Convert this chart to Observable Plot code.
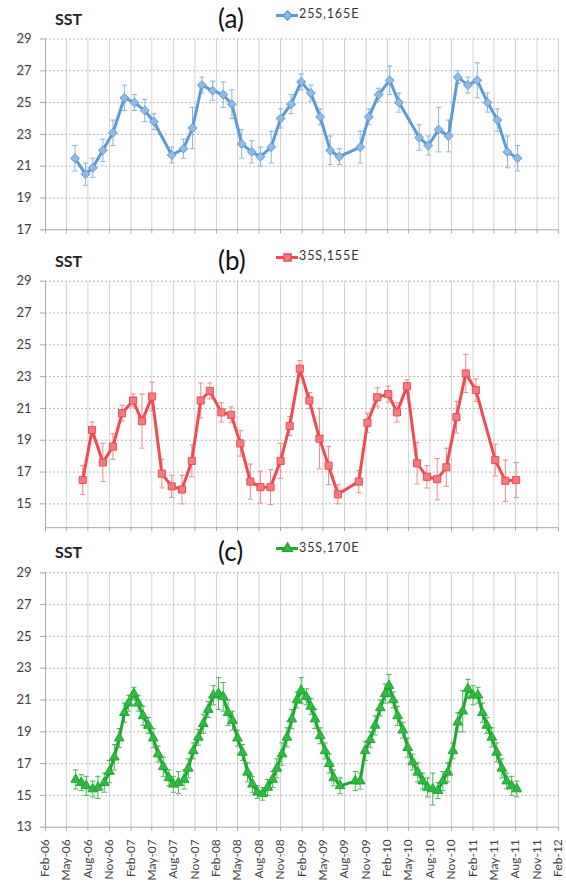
<!DOCTYPE html>
<html><head><meta charset="utf-8">
<script src="https://cdn.jsdelivr.net/npm/d3@7"></script>
<script src="https://cdn.jsdelivr.net/npm/@observablehq/plot@0.6"></script>
<style>
body{margin:0;background:#fff;}
#wrap{position:relative;width:566px;height:883px;overflow:hidden;font-family:Lato,"Open Sans",sans-serif;background:#fff;}
.panel{position:absolute;left:0;width:566px;}
.panel svg{overflow:visible;}
.sst{position:absolute;font-weight:bold;font-size:16px;line-height:1;color:#222;}
.letter{position:absolute;font-size:26px;line-height:1;color:#111;}
.leg{position:absolute;font-size:12.5px;letter-spacing:0.9px;line-height:1;color:#333;display:flex;align-items:center;}
</style></head><body><div id="wrap"></div>
<script>
const xTickLabels = ["Feb-06","May-06","Aug-06","Nov-06","Feb-07","May-07","Aug-07","Nov-07","Feb-08","May-08","Aug-08","Nov-08","Feb-09","May-09","Aug-09","Nov-09","Feb-10","May-10","Aug-10","Nov-10","Feb-11","May-11","Aug-11","Nov-11","Feb-12"];

const datesA = ["2006-06-07","2006-07-22","2006-08-22","2006-10-04","2006-11-16","2007-01-04","2007-02-16","2007-04-01","2007-05-10","2007-07-25","2007-09-13","2007-10-22","2007-12-01","2008-01-16","2008-03-01","2008-04-07","2008-05-19","2008-07-01","2008-08-07","2008-09-22","2008-11-01","2008-12-16","2009-01-28","2009-03-10","2009-04-19","2009-06-01","2009-07-10","2009-10-07","2009-11-13","2009-12-25","2010-02-10","2010-03-22","2010-06-16","2010-07-25","2010-09-07","2010-10-19","2010-11-28","2011-01-10","2011-02-19","2011-04-04","2011-05-16","2011-06-28","2011-08-10"];
const sstA = [21.5,20.5,20.9,22.0,23.1,25.3,25.0,24.5,23.8,21.7,22.1,23.4,26.1,25.75,25.5,24.9,22.4,21.9,21.6,22.2,24.0,24.9,26.3,25.6,24.1,22.0,21.6,22.2,24.1,25.5,26.4,25.0,22.8,22.3,23.3,22.9,26.6,26.1,26.4,25.0,23.9,21.9,21.5];
const errA = [0.8,0.7,0.6,0.7,0.8,0.8,0.5,0.7,0.5,0.5,0.6,1.3,0.5,0.6,0.8,0.9,0.9,0.7,0.6,1.0,0.6,0.6,0.5,0.5,0.5,0.9,0.5,1.0,0.5,0.4,0.9,0.6,0.8,0.6,1.4,1.0,0.4,0.5,1.1,0.6,0.7,1.0,0.8];

const datesB = ["2006-07-10","2006-08-19","2006-10-04","2006-11-16","2006-12-25","2007-02-10","2007-03-20","2007-05-02","2007-06-13","2007-07-25","2007-09-07","2007-10-19","2007-11-26","2008-01-04","2008-02-22","2008-04-04","2008-05-13","2008-06-25","2008-08-07","2008-09-19","2008-11-01","2008-12-10","2009-01-22","2009-03-04","2009-04-16","2009-05-25","2009-07-04","2009-10-01","2009-11-07","2009-12-19","2010-02-04","2010-03-13","2010-04-25","2010-06-07","2010-07-19","2010-09-01","2010-10-10","2010-11-22","2011-01-01","2011-02-13","2011-05-07","2011-06-19","2011-08-04"];
const sstB = [16.5,19.65,17.6,18.6,20.7,21.5,20.2,21.75,16.9,16.1,15.9,17.7,21.5,22.1,20.75,20.6,18.8,16.4,16.05,16.05,17.7,19.9,23.5,21.5,19.1,17.4,15.6,16.4,20.1,21.7,21.9,20.75,22.4,17.55,16.7,16.55,17.3,20.45,23.2,22.15,17.75,16.45,16.5];
const errB = [0.9,0.5,1.2,0.8,0.5,0.4,1.7,0.9,0.9,0.7,0.9,1.0,1.1,0.5,0.6,0.5,0.8,1.1,1.0,1.1,1.1,0.6,0.5,0.5,1.9,1.2,0.6,0.7,0.6,0.6,0.5,0.6,0.4,1.3,0.7,1.3,1.2,1.0,1.2,0.7,1.0,1.3,1.1];

const datesC = ["2006-06-10","2006-07-04","2006-07-25","2006-08-22","2006-09-13","2006-10-10","2006-11-01","2006-11-22","2006-12-13","2007-01-04","2007-01-22","2007-02-13","2007-03-04","2007-03-25","2007-04-16","2007-05-07","2007-05-28","2007-06-19","2007-07-13","2007-08-01","2007-08-23","2007-09-16","2007-10-04","2007-10-25","2007-11-16","2007-12-07","2007-12-28","2008-01-19","2008-02-10","2008-03-01","2008-03-22","2008-04-10","2008-05-01","2008-05-22","2008-06-13","2008-07-04","2008-07-25","2008-08-16","2008-09-07","2008-09-28","2008-10-16","2008-11-07","2008-11-28","2008-12-19","2009-01-10","2009-01-28","2009-02-19","2009-03-10","2009-03-28","2009-04-19","2009-05-10","2009-05-28","2009-06-16","2009-07-13","2009-09-16","2009-10-07","2009-10-28","2009-11-19","2009-12-10","2010-01-01","2010-01-22","2010-02-07","2010-02-25","2010-03-16","2010-04-07","2010-04-28","2010-05-19","2010-06-10","2010-07-01","2010-07-22","2010-08-13","2010-09-04","2010-09-25","2010-10-16","2010-11-07","2010-11-28","2010-12-19","2011-01-10","2011-02-01","2011-02-22","2011-03-13","2011-04-01","2011-04-22","2011-05-13","2011-06-04","2011-06-25","2011-07-16","2011-08-07"];
const sstC = [16.0,15.8,15.6,15.4,15.5,15.8,16.5,17.4,18.6,20.2,20.8,21.4,20.8,20.0,19.4,18.6,17.6,16.8,16.1,15.7,15.8,16.0,16.7,17.8,18.65,19.5,20.4,21.3,21.4,21.2,20.2,19.7,18.6,17.7,16.45,15.7,15.2,15.1,15.5,16.0,16.7,17.6,18.65,19.8,21.0,21.6,21.2,20.6,19.8,18.75,17.8,17.0,16.1,15.6,15.9,15.9,17.8,18.5,19.4,20.5,21.4,21.9,21.0,20.0,19.1,18.0,17.1,16.45,15.9,15.5,15.4,15.3,15.9,16.45,17.8,19.6,20.3,21.7,21.3,21.3,20.2,19.4,18.65,17.7,16.7,15.9,15.6,15.4];
const errC = [0.6,0.5,0.6,0.5,0.7,0.6,0.7,0.8,0.6,0.6,0.5,0.4,0.5,0.6,0.5,0.6,0.5,0.6,0.5,0.5,0.7,0.6,0.6,0.5,0.5,0.6,0.5,0.6,1.0,0.9,0.8,0.6,0.5,0.5,0.6,0.5,0.4,0.4,0.5,0.5,0.6,0.7,0.6,0.6,0.5,0.8,0.5,0.5,0.6,0.5,0.5,0.6,0.5,0.5,0.6,0.5,0.6,0.5,0.6,0.5,0.6,0.7,0.5,0.6,0.5,0.6,0.5,0.6,0.5,0.6,1.0,0.5,0.6,0.6,0.5,0.6,1.3,0.6,0.6,0.5,0.6,0.5,0.6,0.6,0.6,0.5,0.6,0.5];

const yTicksA = [17,19,21,23,25,27,29];
const yTicksB = [15,17,19,21,23,25,27,29];
const yTicksC = [13,15,17,19,21,23,25,27,29];

const parseDay = d3.utcParse("%Y-%m-%d");
const parseTick = d3.utcParse("%b-%y");
const tickDates = xTickLabels.map(parseTick);
const labelByTime = new Map(tickDates.map((d, i) => [+d, xTickLabels[i]]));

const capSymbol = {draw(ctx, size) { const w = Math.sqrt(size) / 2; ctx.moveTo(-w, 0); ctx.lineTo(w, 0); }};

const panels = [
  {top: 0, height: 240, mt: 38.5, mb: 10.7, yDomain: [17, 29], yTicks: yTicksA, dates: datesA, vals: sstA, errs: errA,
   color: "#5b9bd5", fill: "#8fbbe6", err: "#86b5e3", symbol: "diamond2", r: 4, letter: "(a)", label: "25S,165E", showX: false},
  {top: 240, height: 295, mt: 40.7, mb: 7.8, yDomain: [13.5, 29], yTicks: yTicksB, dates: datesB, vals: sstB, errs: errB,
   color: "#ee4b55", fill: "#f47c80", err: "#f08a8a", symbol: "square", r: 4, letter: "(b)", label: "35S,155E", showX: false},
  {top: 535, height: 348, mt: 37.3, mb: 56.3, yDomain: [13, 29], yTicks: yTicksC, dates: datesC, vals: sstC, errs: errC,
   color: "#1ea832", fill: "#2fbb3f", err: "#45b94f", symbol: "triangle", r: 3.6, letter: "(c)", label: "35S,170E", showX: true}
];

const wrap = document.getElementById("wrap");

for (const p of panels) {
  const data = p.dates.map((d, i) => ({date: parseDay(d), v: p.vals[i], e: p.errs[i]}));
  const chart = Plot.plot({
    width: 566, height: p.height,
    marginLeft: 45, marginRight: 8, marginTop: p.mt, marginBottom: p.mb,
    style: {fontFamily: "Lato, 'Open Sans', sans-serif", fontSize: "13px", color: "#404040", background: "transparent", overflow: "visible"},
    x: {type: "utc", domain: [tickDates[0], tickDates[tickDates.length - 1]]},
    y: {domain: p.yDomain},
    marks: [
      Plot.ruleX(tickDates, {stroke: "#d2d2d2", strokeWidth: 1}),
      Plot.ruleY(p.yTicks.filter(t => t > p.yDomain[0]), {stroke: "#b5b5b5", strokeDasharray: "2,2"}),
      Plot.ruleY([p.yDomain[0]], {stroke: "#a6a6a6"}),
      Plot.ruleX([tickDates[0]], {stroke: "#a6a6a6"}),
      Plot.axisY({ticks: p.yTicks, tickSize: 5, tickPadding: 9, stroke: "#a6a6a6", fill: "#404040", fontSize: 13, label: null}),
      p.showX
        ? Plot.axisX({ticks: tickDates, tickFormat: d => labelByTime.get(+d), tickRotate: -90, tickSize: 4, tickPadding: 8, stroke: "#a6a6a6", fill: "#404040", fontSize: 12, label: null})
        : Plot.axisX({ticks: tickDates, tickFormat: () => "", tickSize: 4, stroke: "#a6a6a6", label: null}),
      Plot.ruleX(data, {x: "date", y1: d => d.v - d.e, y2: d => d.v + d.e, stroke: p.err, strokeWidth: 1}),
      Plot.dot(data, {x: "date", y: d => d.v + d.e, symbol: capSymbol, r: 3, stroke: p.err, strokeWidth: 1}),
      Plot.dot(data, {x: "date", y: d => d.v - d.e, symbol: capSymbol, r: 3, stroke: p.err, strokeWidth: 1}),
      Plot.line(data, {x: "date", y: "v", stroke: p.color, strokeWidth: 3, strokeLinejoin: "round"}),
      Plot.dot(data, {x: "date", y: "v", symbol: p.symbol, r: p.r, fill: p.fill, stroke: p.color, strokeWidth: 1})
    ]
  });
  const div = document.createElement("div");
  div.className = "panel";
  div.style.top = p.top + "px";
  div.style.height = p.height + "px";
  div.appendChild(chart);

  const sst = document.createElement("div");
  sst.className = "sst"; sst.textContent = "SST";
  sst.style.left = "55px"; sst.style.top = (p.mt - 28) + "px";
  div.appendChild(sst);

  const letter = document.createElement("div");
  letter.className = "letter"; letter.textContent = p.letter;
  letter.style.left = "218px"; letter.style.top = (p.mt - 34) + "px";
  div.appendChild(letter);

  const leg = document.createElement("div");
  leg.className = "leg";
  leg.style.left = "276px"; leg.style.top = (p.mt - 30) + "px"; leg.style.height = "12px";
  const swatch = Plot.plot({
    width: 22, height: 12, margin: 0,
    x: {domain: [0, 1], axis: null}, y: {domain: [0, 1], axis: null},
    style: {background: "transparent", overflow: "visible"},
    marks: [
      Plot.ruleY([0.5], {stroke: p.color, strokeWidth: 3}),
      Plot.dot([0.5], {x: d => d, y: 0.5, symbol: p.symbol, r: p.r, fill: p.fill, stroke: p.color})
    ]
  });
  leg.appendChild(swatch);
  const lt = document.createElement("span");
  lt.textContent = p.label; lt.style.marginLeft = "1px";
  leg.appendChild(lt);
  div.appendChild(leg);

  wrap.appendChild(div);
}
</script></body></html>
